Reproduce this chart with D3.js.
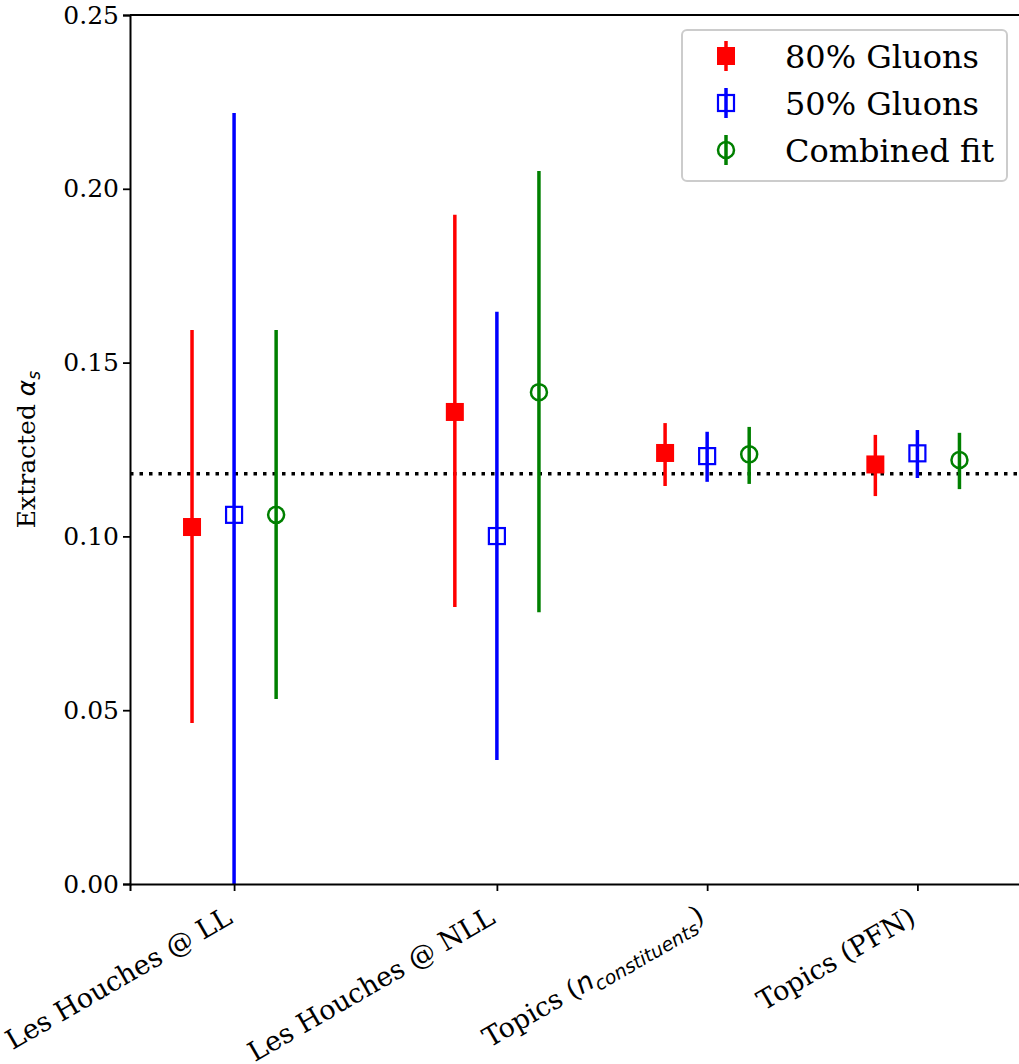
<!DOCTYPE html>
<html>
<head>
<meta charset="utf-8">
<script src="https://cdn.jsdelivr.net/npm/d3@7"></script>
<style>
  body { margin: 0; background: #fff; }
  svg { display: block; }
</style>
</head>
<body>
<svg id="chart"></svg>
<script>
// categories and their x positions
const categories = ["Les Houches @ LL", "Les Houches @ NLL", "Topics (n_constituents)", "Topics (PFN)"];
const positions = [0, 1.25, 2.25, 3.25];

// central values and error bar ends
const red = [0.1027, 0.1358, 0.1240, 0.1207];
const redLo = [0.0463, 0.0797, 0.1145, 0.1116];
const redHi = [0.1594, 0.1925, 0.1326, 0.1292];

const blue = [0.1062, 0.1001, 0.1231, 0.1239];
const blueLo = [0.0, 0.0357, 0.1157, 0.1168];
const blueHi = [0.2218, 0.1646, 0.1301, 0.1306];

const green = [0.1062, 0.1415, 0.1236, 0.1220];
const greenLo = [0.0532, 0.0782, 0.1151, 0.1136];
const greenHi = [0.1594, 0.2051, 0.1315, 0.1298];

const refValue = 0.118;
const yTicks = [0, 0.05, 0.10, 0.15, 0.20, 0.25];

const width = 1019, height = 1064;
const margin = { top: 15, right: -1, bottom: 180, left: 130 };
const innerW = width - margin.left - margin.right;
const innerH = height - margin.top - margin.bottom;

const svg = d3.select("#chart").attr("width", width).attr("height", height);
const g = svg.append("g").attr("transform", `translate(${margin.left},${margin.top})`);

const x = d3.scaleLinear().domain([-0.495, 3.738]).range([0, innerW]);
const y = d3.scaleLinear().domain([0, 0.25]).range([innerH, 0]);

// reference line
g.append("line")
  .attr("x1", 0).attr("x2", innerW)
  .attr("y1", y(refValue)).attr("y2", y(refValue))
  .attr("stroke", "#000").attr("stroke-width", 3.5)
  .attr("stroke-dasharray", "3.5,6");

const series = [
  { name: "80% Gluons", color: "#ff0000", vals: red, lo: redLo, hi: redHi, off: -0.2, marker: "filled" },
  { name: "50% Gluons", color: "#0000ff", vals: blue, lo: blueLo, hi: blueHi, off: 0, marker: "square" },
  { name: "Combined fit", color: "#008000", vals: green, lo: greenLo, hi: greenHi, off: 0.2, marker: "circle" }
];

function drawMarker(sel, s, cx, cy) {
  if (s.marker === "filled") {
    sel.append("rect").attr("x", cx - 9).attr("y", cy - 9).attr("width", 18).attr("height", 18)
      .attr("fill", s.color);
  } else if (s.marker === "square") {
    sel.append("rect").attr("x", cx - 8).attr("y", cy - 8).attr("width", 16).attr("height", 16)
      .attr("fill", "none").attr("stroke", s.color).attr("stroke-width", 2.2);
  } else {
    sel.append("circle").attr("cx", cx).attr("cy", cy).attr("r", 8)
      .attr("fill", "none").attr("stroke", s.color).attr("stroke-width", 2.5);
  }
}

const plot = g.append("g");
series.forEach(s => {
  s.vals.forEach((v, i) => {
    const cx = x(positions[i] + s.off);
    plot.append("line")
      .attr("x1", cx).attr("x2", cx)
      .attr("y1", y(s.lo[i])).attr("y2", y(s.hi[i]))
      .attr("stroke", s.color).attr("stroke-width", 3.5);
    drawMarker(plot, s, cx, y(v));
  });
});

// top spine
g.append("line").attr("x1", 0).attr("x2", innerW).attr("y1", 0).attr("y2", 0)
  .attr("stroke", "#000").attr("stroke-width", 2);

// y axis
const yAxis = g.append("g")
  .call(d3.axisLeft(y).tickValues(yTicks).tickFormat(d3.format(".2f")).tickSizeOuter(0).tickSize(7));
yAxis.select(".domain").attr("stroke-width", 2);
yAxis.selectAll(".tick line").attr("stroke-width", 1.8);
yAxis.selectAll(".tick text")
  .attr("font-family", "DejaVu Serif").attr("font-size", 25).attr("x", -11).attr("fill", "#000");

// x axis
const xAxis = g.append("g")
  .attr("transform", `translate(0,${innerH})`)
  .call(d3.axisBottom(x).tickValues(positions).tickFormat("").tickSizeOuter(0).tickSize(7));
xAxis.select(".domain").attr("stroke-width", 2);
xAxis.selectAll(".tick line").attr("stroke-width", 1.8);

xAxis.selectAll(".tick").each(function (d, i) {
  const t = d3.select(this).append("text")
    .attr("transform", "translate(-10,22) rotate(-30)")
    .attr("text-anchor", "end")
    .attr("dy", "0.7em")
    .attr("font-family", "DejaVu Serif")
    .attr("font-size", 27)
    .attr("fill", "#000");
  if (i === 2) {
    t.append("tspan").text("Topics (");
    t.append("tspan").text("n").attr("font-family", "DejaVu Sans").attr("font-style", "italic");
    t.append("tspan").text("constituents").attr("font-family", "DejaVu Sans").attr("font-style", "italic")
      .attr("font-size", 19).attr("dy", "0.3em");
    t.append("tspan").text(")").attr("dy", "-0.3em");
  } else {
    t.text(categories[i]);
  }
});

// y label
const yl = svg.append("text")
  .attr("transform", `translate(35,${margin.top + innerH / 2}) rotate(-90)`)
  .attr("text-anchor", "middle")
  .attr("font-family", "DejaVu Serif")
  .attr("font-size", 25)
  .attr("fill", "#000");
yl.append("tspan").text("Extracted ");
yl.append("tspan").text("α").attr("font-family", "DejaVu Sans").attr("font-style", "italic");
yl.append("tspan").text("s").attr("font-family", "DejaVu Sans").attr("font-style", "italic")
  .attr("font-size", 17).attr("dy", "0.3em");

// legend
const lg = svg.append("g").attr("transform", "translate(682,30)");
lg.append("rect").attr("width", 325).attr("height", 151).attr("rx", 5)
  .attr("fill", "#fff").attr("fill-opacity", 0.8)
  .attr("stroke", "#cccccc").attr("stroke-width", 2);
series.forEach((s, i) => {
  const cy = 26 + i * 47;
  lg.append("line").attr("x1", 44).attr("x2", 44).attr("y1", cy - 15).attr("y2", cy + 15)
    .attr("stroke", s.color).attr("stroke-width", 3.5);
  drawMarker(lg, s, 44, cy);
  lg.append("text").attr("x", 103).attr("y", cy).attr("dy", "0.36em")
    .attr("font-family", "DejaVu Serif").attr("font-size", 32).attr("fill", "#000")
    .text(s.name);
});
</script>
</body>
</html>
